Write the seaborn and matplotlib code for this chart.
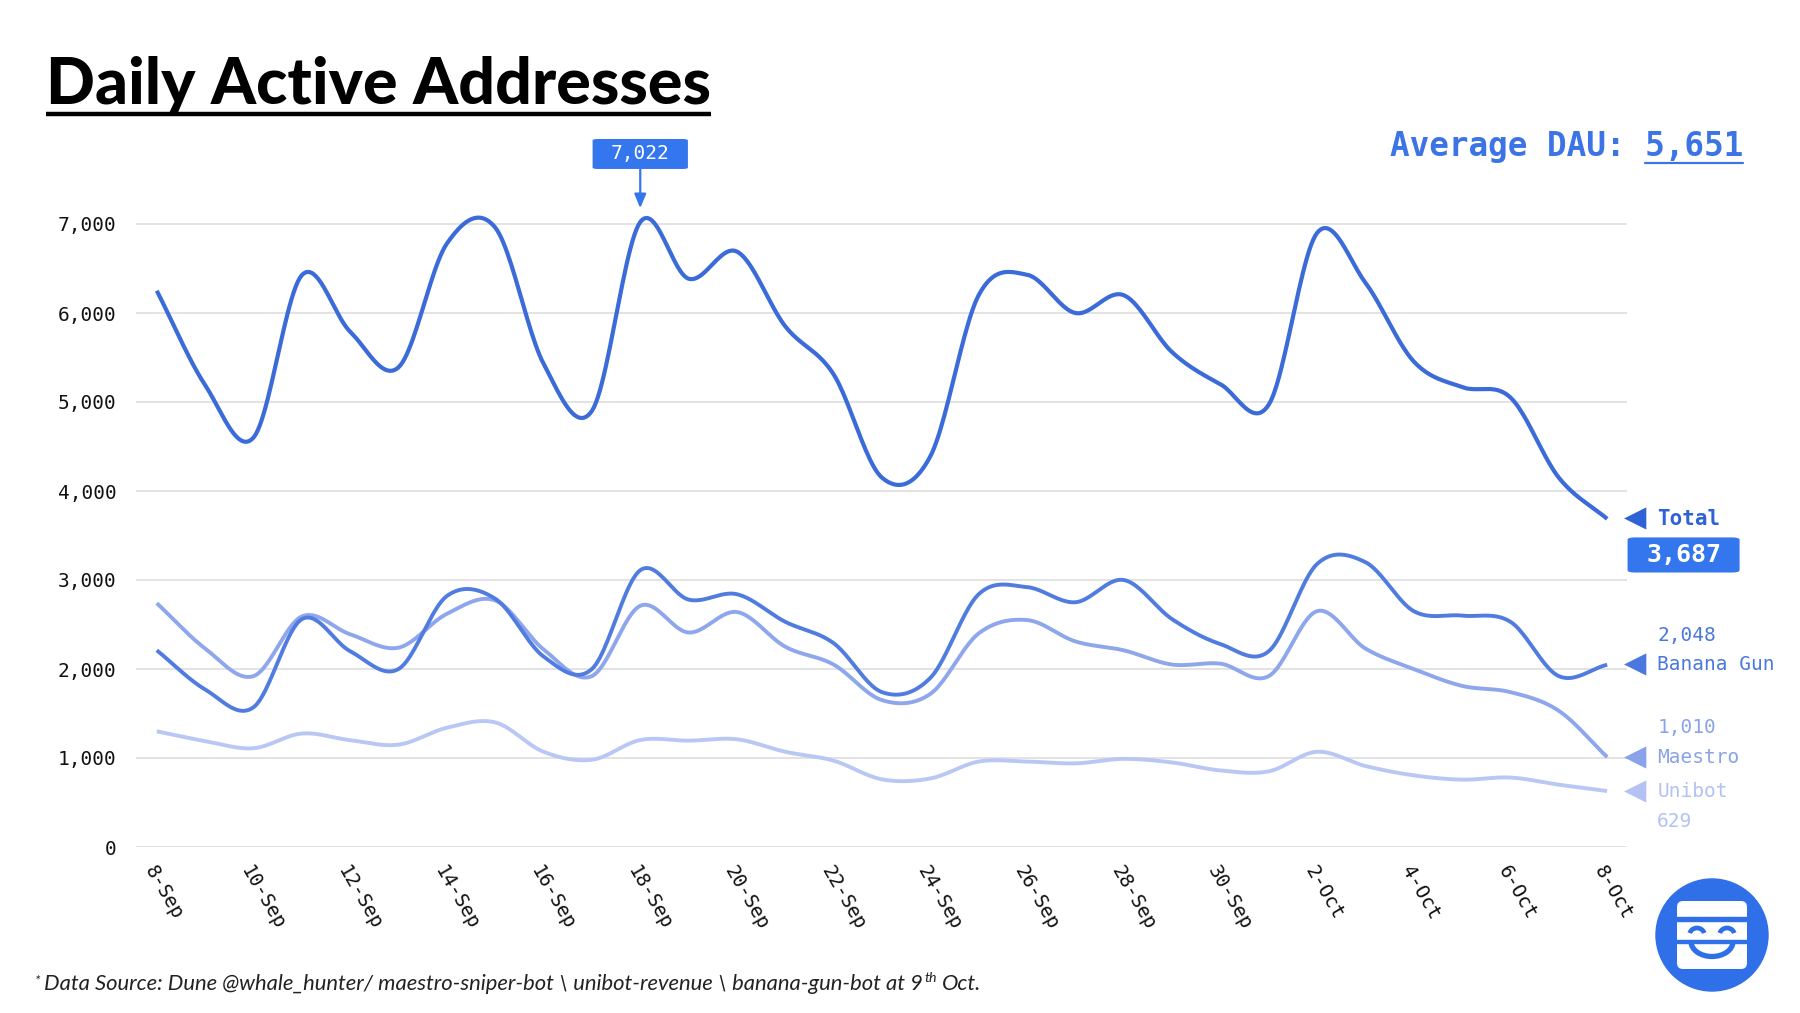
import numpy as np
import pandas as pd
import matplotlib
matplotlib.use("Agg")
import matplotlib.pyplot as plt
from matplotlib.lines import Line2D
from matplotlib.patches import Circle, FancyBboxPatch, Arc, Rectangle
from matplotlib.ticker import FuncFormatter
import seaborn as sns

# ---------------- data ----------------
dates = ["8-Sep", "9-Sep", "10-Sep", "11-Sep", "12-Sep", "13-Sep", "14-Sep", "15-Sep",
         "16-Sep", "17-Sep", "18-Sep", "19-Sep", "20-Sep", "21-Sep", "22-Sep", "23-Sep",
         "24-Sep", "25-Sep", "26-Sep", "27-Sep", "28-Sep", "29-Sep", "30-Sep",
         "1-Oct", "2-Oct", "3-Oct", "4-Oct", "5-Oct", "6-Oct", "7-Oct", "8-Oct"]
total = [6250, 5190, 4600, 6425, 5790, 5390, 6780, 6960, 5430, 4900, 7022, 6385, 6690, 5850,
         5310, 4150, 4390, 6200, 6430, 6000, 6200, 5560, 5200, 4970, 6900, 6340, 5455, 5167,
         5050, 4150, 3687]
banana_gun = [2210, 1770, 1570, 2560, 2200, 2000, 2820, 2790, 2140, 2000, 3110, 2780, 2840, 2530,
              2290, 1740, 1900, 2840, 2920, 2750, 3000, 2560, 2280, 2200, 3180, 3200, 2650, 2600,
              2530, 1920, 2048]
maestro = [2740, 2230, 1920, 2590, 2390, 2240, 2620, 2770, 2220, 1920, 2710, 2410, 2640, 2250,
           2050, 1650, 1720, 2400, 2550, 2310, 2210, 2050, 2060, 1920, 2650, 2230, 2000, 1810,
           1740, 1530, 1010]
unibot = [1300, 1190, 1110, 1275, 1200, 1150, 1340, 1400, 1070, 980, 1202, 1195, 1210, 1070,
          970, 760, 770, 960, 960, 940, 990, 950, 860, 850, 1070, 910, 805, 757, 780, 700, 629]
series_names = ["Total", "Banana Gun", "Maestro", "Unibot"]
y_ticks = [0, 1000, 2000, 3000, 4000, 5000, 6000, 7000]
title_text = "Daily Active Addresses"
average_label = "Average DAU: "
average_value = "5,651"
footnote_main = "Data Source: Dune @whale_hunter/ maestro-sniper-bot \\ unibot-revenue \\ banana-gun-bot at 9"
footnote_sup = "th"
footnote_end = "Oct."

# ---------------- style ----------------
sns.set_theme(style="white")
MONO = ["DejaVu Sans Mono", "DejaVu Sans"]
plt.rcParams["font.family"] = MONO

line_colors = {"Total": "#3a6bd9", "Banana Gun": "#507ce0", "Maestro": "#8ea6ec", "Unibot": "#b9c7f4"}
label_colors = {"Total": "#2f62d6", "Banana Gun": "#4a78df", "Maestro": "#8aa2ea", "Unibot": "#b3c2f2"}
line_widths = {"Total": 3.0, "Banana Gun": 2.8, "Maestro": 2.8, "Unibot": 2.8}
box_color = "#3476ee"

W, H = 1800, 1013
fig = plt.figure(figsize=(W / 100, H / 100), dpi=100)
fig.patch.set_facecolor("white")


def fx(px):
    return px / W


def fy(py):
    return 1 - py / H


# axes geometry (pixels): zero line at y=847, 89 px per 1000
y_top = 7400
ax_left, ax_right = 136, 1627
ax_bottom_px = 847
ax_top_px = ax_bottom_px - y_top * 0.089
ax = fig.add_axes([fx(ax_left), fy(ax_bottom_px), (ax_right - ax_left) / W,
                   (ax_bottom_px - ax_top_px) / H])


def smooth(vals, n=24):
    y = np.asarray(vals, dtype=float)
    m = len(y)
    t = np.empty(m)
    t[1:-1] = (y[2:] - y[:-2]) / 2.0
    t[0] = y[1] - y[0]
    t[-1] = y[-1] - y[-2]
    xs, ys = [], []
    s = np.linspace(0, 1, n, endpoint=False)
    h00 = 2 * s ** 3 - 3 * s ** 2 + 1
    h10 = s ** 3 - 2 * s ** 2 + s
    h01 = -2 * s ** 3 + 3 * s ** 2
    h11 = s ** 3 - s ** 2
    for i in range(m - 1):
        xs.append(i + s)
        ys.append(h00 * y[i] + h10 * t[i] + h01 * y[i + 1] + h11 * t[i + 1])
    xs.append(np.array([m - 1.0]))
    ys.append(np.array([y[-1]]))
    return np.concatenate(xs), np.concatenate(ys)


series_vals = {"Total": total, "Banana Gun": banana_gun, "Maestro": maestro, "Unibot": unibot}
for name in ["Unibot", "Maestro", "Banana Gun", "Total"]:
    xs, ys = smooth(series_vals[name])
    df = pd.DataFrame({"x": xs, "y": ys, "series": name})
    sns.lineplot(data=df, x="x", y="y", color=line_colors[name], linewidth=line_widths[name],
                 sort=False, estimator=None, legend=False, ax=ax, solid_capstyle="butt")

last = len(dates) - 1
ax.set_xlim(-0.43, last + 0.41)
ax.set_ylim(0, y_top)
ax.set_yticks(y_ticks)
ax.yaxis.set_major_formatter(FuncFormatter(lambda v, p: f"{int(v):,}"))
ax.set_xticks(list(range(0, len(dates), 2)))
ax.set_xticklabels(dates[::2], rotation=-60, ha="left", va="top", rotation_mode="anchor")
ax.tick_params(axis="x", length=0, pad=11, labelsize=14, labelcolor="#111111")
ax.tick_params(axis="y", length=0, pad=14, labelsize=14, labelcolor="#111111")
for lab in ax.get_xticklabels() + ax.get_yticklabels():
    lab.set_fontfamily(MONO)
ax.set_xlabel("")
ax.set_ylabel("")
ax.yaxis.grid(True, color="#e0e0e0", linewidth=1.3)
ax.xaxis.grid(False)
ax.set_axisbelow(True)
for sp in ax.spines.values():
    sp.set_visible(False)
ax.set_facecolor("none")

# ---------------- end labels ----------------
tri_off, txt_off = 20, 36
for name in series_names:
    v = series_vals[name][-1]
    c = label_colors[name]
    ax.annotate("\u25C0", xy=(last, v), xytext=(tri_off, 0), textcoords="offset points",
                ha="center", va="center", color=c, fontsize=21, family=["DejaVu Sans"],
                annotation_clip=False)
    ax.annotate(name, xy=(last, v), xytext=(txt_off, 0), textcoords="offset points",
                ha="left", va="center", color=c, fontsize=15 if name == "Total" else 14,
                fontweight="bold" if name == "Total" else "normal", family=MONO,
                annotation_clip=False)
    val_txt = f"{v:,}"
    if name == "Total":
        ax.annotate(val_txt, xy=(last, v), xytext=(55, -26), textcoords="offset points",
                    ha="center", va="center", color="white", fontsize=18, fontweight="bold",
                    family=MONO, annotation_clip=False,
                    bbox=dict(boxstyle="round,pad=0.74,rounding_size=0.3", fc=box_color, ec="none",
                              mutation_aspect=0.3))
    elif name == "Unibot":
        ax.annotate(val_txt, xy=(last, v), xytext=(txt_off, -22), textcoords="offset points",
                    ha="left", va="center", color=c, fontsize=14, family=MONO, annotation_clip=False)
    else:
        ax.annotate(val_txt, xy=(last, v), xytext=(txt_off, 21), textcoords="offset points",
                    ha="left", va="center", color=c, fontsize=14, family=MONO, annotation_clip=False)

# ---------------- peak callout ----------------
pk = int(np.argmax(total))
ax.annotate(f"{total[pk]:,}", xy=(pk, total[pk]), xytext=(0, 49), textcoords="offset points",
            ha="center", va="center", color="white", fontsize=14, family=MONO,
            bbox=dict(boxstyle="round,pad=0.94,rounding_size=0.25", fc=box_color, ec="none",
                      mutation_aspect=0.3),
            arrowprops=dict(arrowstyle="-|>,head_length=0.6,head_width=0.25", color=box_color,
                            lw=1.6, shrinkA=0, shrinkB=10),
            annotation_clip=False)

renderer = fig.canvas.get_renderer()

# ---------------- title ----------------
TITLE_FONT = ["Lato", "DejaVu Sans"]
title = fig.text(fx(46), fy(104), title_text, fontsize=47, fontweight="black",
                 family=TITLE_FONT, color="black", ha="left", va="baseline")
bb = title.get_window_extent(renderer)
target_w = 664
scale = target_w / bb.width
title.set_fontsize(47 * min(max(scale, 0.85), 1.15))
bb = title.get_window_extent(renderer)
fig.add_artist(Line2D([bb.x0 / W, bb.x1 / W], [fy(114), fy(114)], color="black", linewidth=3.2,
                      solid_capstyle="butt"))

# ---------------- average ----------------
avg_full = average_label + average_value
avg = fig.text(fx(1743), fy(156), avg_full, fontsize=23.5, fontweight="bold", family=MONO,
               color="#3c74e6", ha="right", va="baseline")
bb = avg.get_window_extent(renderer)
frac = len(average_value) / len(avg_full)
ux0 = bb.x1 - bb.width * frac
fig.add_artist(Line2D([ux0 / W, bb.x1 / W], [fy(163), fy(163)], color="#3c74e6", linewidth=1.6))

# ---------------- footnote ----------------
FOOT = ["Lato", "DejaVu Sans"]
fs = 15.8
x_start = fx(35)
base = fy(990)
star = fig.text(x_start, base + 6 / H, "*", fontsize=10, style="italic", family=FOOT,
                color="#222222", ha="left", va="baseline")
x_cur = star.get_window_extent(renderer).x1 / W + 4 / W
main = fig.text(x_cur, base, footnote_main, fontsize=fs, style="italic", family=FOOT,
                color="#222222", ha="left", va="baseline")
x_cur = main.get_window_extent(renderer).x1 / W + 1 / W
sup = fig.text(x_cur, base + 8 / H, footnote_sup, fontsize=fs * 0.65, style="italic",
               family=FOOT, color="#222222", ha="left", va="baseline")
x_cur = sup.get_window_extent(renderer).x1 / W + 5 / W
fig.text(x_cur, base, footnote_end, fontsize=fs, style="italic", family=FOOT, color="#222222",
         ha="left", va="baseline")

# ---------------- logo ----------------
logo_blue = "#2f6fe8"
lax = fig.add_axes([fx(1712 - 62), fy(935 + 62), 124 / W, 124 / H])
lax.set_xlim(-62, 62)
lax.set_ylim(-62, 62)
lax.set_aspect("equal")
lax.axis("off")
lax.add_patch(Circle((0, 0), 56, color=logo_blue))
lax.add_patch(FancyBboxPatch((-31, -30), 62, 60, boxstyle="round,pad=4,rounding_size=6",
                             fc="white", ec="none"))
lax.add_patch(Rectangle((-36, 14), 72, 4.5, color=logo_blue))
lax.add_patch(Rectangle((-36, -8), 72, 3.5, color=logo_blue))
lax.add_patch(Arc((-15, 0), 15, 14, theta1=15, theta2=165, lw=3.4, color=logo_blue))
lax.add_patch(Arc((15, 0), 15, 14, theta1=15, theta2=165, lw=3.4, color=logo_blue))
lax.add_patch(Arc((0, -6.5), 42, 30, theta1=180, theta2=360, lw=3.8, color=logo_blue))

fig.savefig("out.png", dpi=100, facecolor="white")
